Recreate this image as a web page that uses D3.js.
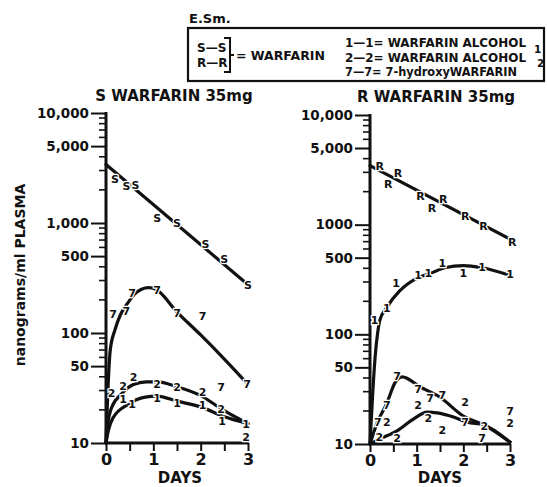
<!DOCTYPE html>
<html><head><meta charset="utf-8">
<script src="https://cdn.jsdelivr.net/npm/d3@7"></script>
<style>
body{margin:0;background:#fff;}
text{font-family:"DejaVu Sans",sans-serif;font-weight:bold;fill:#111;}
</style></head>
<body><svg id="c" width="547" height="487"></svg>
<script>
// ---------- data ----------
const dayTicks = [0,1,2,3];
const dayMinorTicks = [0,0.5,1,1.5,2,2.5,3];
const yTickValues = [10000,5000,1000,500,100,50,10];
const yTickLabelsLeft = ["10,000","5,000","1,000","500","100","50","10"];
const yTickLabelsRight = ["10,000","5,000","1000","500","100","50","10"];

// Left panel: S warfarin 35mg
const leftS_line = [[0,3400],[3,275]];
const leftS_pts  = [[0.19,2510],[0.43,2170],[0.62,2200],[1.08,1110],[1.5,1000],[2.1,645],[2.5,470],[3,273]];
const left7_line = [[0,10],[0.04,30],[0.09,70],[0.19,107],[0.3,145],[0.47,190],[0.6,225],[0.75,250],[0.9,258],[1.05,250],[1.5,155],[2,96],[2.5,58],[2.95,36]];
const left7_pts  = [[0.15,148],[0.43,160],[0.55,230],[1.08,245],[1.5,152],[2.04,143],[2.43,32],[2.98,34]];
const left2_line = [[0,10],[0.04,15],[0.12,21],[0.33,28],[0.58,34],[0.85,36],[1.08,36],[1.5,32.5],[2,27],[2.47,20],[3,15]];
const left2_pts  = [[0.12,28.5],[0.36,33],[0.58,40],[1.08,34.5],[1.5,32],[2.04,29],[2.43,20.5],[2.96,11.3]];
const left1_line = [[0,10],[0.05,13],[0.15,17],[0.47,22.5],[0.8,26],[1.08,26.7],[1.5,24],[2,21.3],[2.47,17.5],[3,15]];
const left1_pts  = [[0.36,25],[0.55,22.5],[1.08,25.5],[1.5,23],[2.04,22],[2.45,16],[2.96,15]];

// Right panel: R warfarin 35mg
const rightR_line = [[0,3450],[3,740]];
const rightR_pts  = [[0.21,3440],[0.39,2360],[0.6,2970],[1.08,1830],[1.33,1420],[1.57,1720],[2.04,1200],[2.43,980],[3.05,690]];
const right1_line = [[0,10],[0.06,30],[0.12,70],[0.16,100],[0.21,134],[0.36,176],[0.64,250],[1,324],[1.3,360],[1.6,405],[2,424],[2.4,405],[3,345]];
const right1_pts  = [[0.1,134],[0.36,172],[0.56,296],[1.03,345],[1.25,360],[1.55,450],[2.0,365],[2.4,410],[3.0,355]];
const right7_line = [[0,10],[0.15,15.5],[0.36,23.5],[0.54,36.5],[0.69,41],[1.08,33],[1.5,26.7],[2,18],[2.43,15],[3,10.4]];
const right7_pts  = [[0.17,15.8],[0.36,22.6],[0.58,41.5],[1.03,32],[1.29,26],[1.55,28],[2.04,15.8],[2.4,11.3],[3.0,20]];
const right2_line = [[0,10],[0.21,11.1],[0.58,13.2],[0.93,16.9],[1.23,19.5],[1.44,19.2],[1.79,17.6],[2.09,15.8],[2.43,15],[3,10.4]];
const right2_pts  = [[0.2,11.6],[0.36,15.8],[0.58,11.3],[1.03,22.6],[1.25,17.2],[1.55,13.4],[2.04,24],[2.45,14.5],[3.0,15.5]];

const legendLeftRows = ["S—S","R—R"];
const legendRows = ["1—1= WARFARIN ALCOHOL","2—2= WARFARIN ALCOHOL","7—7= 7-hydroxyWARFARIN"];
const legendSubs = ["1","2"];

// ---------- drawing ----------
const svg = d3.select("#c");
const ink = "#111";

function panel(cfg){
  const x = d3.scaleLinear().domain([0,3]).range([cfg.x0,cfg.x1]);
  const y = d3.scaleLog().domain([10,10000]).range([cfg.y0,cfg.y1]);
  const g = svg.append("g");
  g.append("text").attr("x",cfg.titleX).attr("y",cfg.titleY).attr("text-anchor","middle")
    .style("font-size","15px").text(cfg.title);
  const yAxis = d3.axisLeft(y).tickValues(yTickValues).tickSize(15).tickPadding(2)
    .tickFormat((d,i)=>cfg.labels[i]);
  const ya = g.append("g").attr("transform",`translate(${cfg.x0},0)`).call(yAxis);
  ya.select(".domain").remove();
  ya.selectAll(".tick line").attr("stroke",ink).attr("stroke-width",2);
  ya.selectAll(".tick text").style("font-size","13.5px").style("font-family","DejaVu Sans").style("font-weight","bold").attr("fill",ink);
  const minors = [];
  [10,100,1000].forEach(dec=>{for(let k=2;k<=9;k++){ if(k!==5) minors.push(dec*k);} });
  g.selectAll(".minor").data(minors).join("line")
    .attr("x1",cfg.x0-7).attr("x2",cfg.x0).attr("y1",d=>y(d)).attr("y2",d=>y(d))
    .attr("stroke",ink).attr("stroke-width",1.6);
  g.append("line").attr("x1",cfg.x0).attr("x2",cfg.x0).attr("y1",y(10000)-1).attr("y2",y(10)+1)
    .attr("stroke",ink).attr("stroke-width",3);
  const xAxis = d3.axisBottom(x).tickValues(dayMinorTicks).tickSize(8).tickPadding(3)
    .tickFormat(d=>dayTicks.includes(d)?d:"");
  const xa = g.append("g").attr("transform",`translate(0,${cfg.y0})`).call(xAxis);
  xa.select(".domain").remove();
  xa.selectAll(".tick line").attr("stroke",ink).attr("stroke-width",2);
  xa.selectAll(".tick text").style("font-size","16px").style("font-family","DejaVu Sans").style("font-weight","bold").attr("fill",ink);
  g.append("line").attr("x1",cfg.x0-1).attr("x2",x(3)+1).attr("y1",cfg.y0).attr("y2",cfg.y0)
    .attr("stroke",ink).attr("stroke-width",3);
  g.append("text").attr("x",cfg.daysX).attr("y",cfg.daysY).attr("text-anchor","middle")
    .style("font-size","15px").text("DAYS");
  const line = d3.line().x(d=>x(d[0])).y(d=>y(d[1])).curve(d3.curveMonotoneX);
  cfg.series.forEach(s=>{
    g.append("path").datum(s.line).attr("d",line).attr("fill","none")
      .attr("stroke",ink).attr("stroke-width",3.2).attr("stroke-linecap","round");
  });
  cfg.series.forEach(s=>{
    g.selectAll(null).data(s.pts).join("text")
      .attr("x",d=>x(d[0])).attr("y",d=>y(d[1])).attr("dy","0.36em")
      .attr("text-anchor","middle").style("font-size","11px")
      .attr("stroke","#fff").attr("stroke-width",2.5).attr("paint-order","stroke")
      .text(s.mark);
  });
}

panel({x0:106,x1:248,y0:443,y1:113,labels:yTickLabelsLeft,title:"S WARFARIN 35mg",titleX:174,titleY:101,
  daysX:180,daysY:483,
  series:[{line:leftS_line,pts:leftS_pts,mark:"S"},{line:left7_line,pts:left7_pts,mark:"7"},
          {line:left2_line,pts:left2_pts,mark:"2"},{line:left1_line,pts:left1_pts,mark:"1"}]});
panel({x0:370,x1:510,y0:444,y1:115,labels:yTickLabelsRight,title:"R WARFARIN 35mg",titleX:436,titleY:102,
  daysX:440,daysY:483,
  series:[{line:rightR_line,pts:rightR_pts,mark:"R"},{line:right1_line,pts:right1_pts,mark:"1"},
          {line:right7_line,pts:right7_pts,mark:"7"},{line:right2_line,pts:right2_pts,mark:"2"}]});

svg.append("text").attr("transform","translate(25,275) rotate(-90)").attr("text-anchor","middle")
  .style("font-size","14px").text("nanograms/ml PLASMA");

svg.append("text").attr("x",189).attr("y",23).style("font-size","13px").text("E.Sm.");
svg.append("rect").attr("x",188).attr("y",28).attr("width",356).attr("height",53)
  .attr("fill","none").attr("stroke",ink).attr("stroke-width",2.2);
svg.selectAll(".ll").data(legendLeftRows).join("text")
  .attr("x",197).attr("y",(d,i)=>52+i*15).style("font-size","12px").text(d=>d);
svg.append("path").attr("d","M224,38 H230 V72 H224 M230,55 H234").attr("fill","none")
  .attr("stroke",ink).attr("stroke-width",2);
svg.append("text").attr("x",236).attr("y",60).style("font-size","12.5px").text("= WARFARIN");
svg.selectAll(".lr").data(legendRows).join("text")
  .attr("x",345).attr("y",(d,i)=>47+i*14.5).style("font-size","12.5px")
  .attr("textLength",(d,i)=>i<2?181:172).attr("lengthAdjust","spacingAndGlyphs").text(d=>d);
svg.selectAll(".ls").data(legendSubs).join("text")
  .attr("x",(d,i)=>534+i*3).attr("y",(d,i)=>53+i*14).style("font-size","10.5px").text(d=>d);
</script></body></html>
